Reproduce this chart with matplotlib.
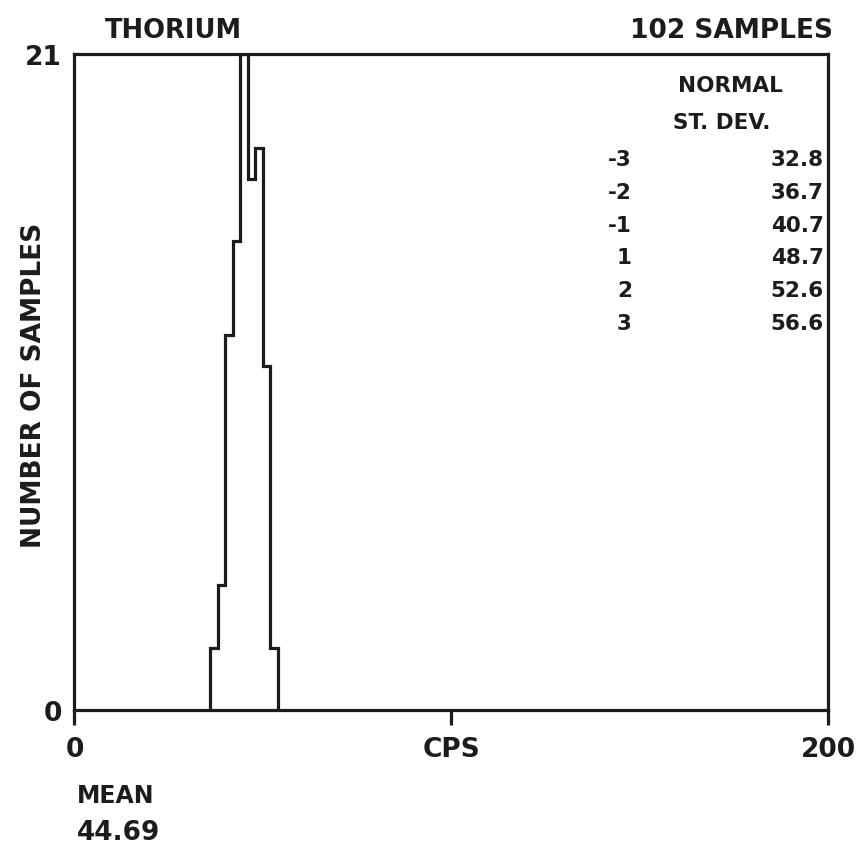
import matplotlib
matplotlib.use('Agg')
import matplotlib.pyplot as plt

# Histogram data (2 CPS bins)
bin_edges = [36, 38, 40, 42, 44, 46, 48, 50, 52, 54]
counts = [2, 4, 12, 15, 21, 17, 18, 11, 2]

# Normal distribution table
sd_steps = ['-3', '-2', '-1', '1', '2', '3']
sd_values = [32.8, 36.7, 40.7, 48.7, 52.6, 56.6]

element = 'THORIUM'
n_samples = 102
mean_cps = 44.69

ink = '#1c1c1c'
plt.rcParams['font.family'] = ['DejaVu Sans']
plt.rcParams['font.weight'] = 'bold'

W, H = 862, 853
fig = plt.figure(figsize=(W / 100, H / 100), dpi=100)
fig.patch.set_facecolor('white')
ax = fig.add_axes([74.5 / W, (H - 711) / H, (828 - 74.5) / W, (711 - 55) / H])

ax.stairs(counts, bin_edges, color=ink, linewidth=2.3)

ax.set_xlim(0, 200)
ax.set_ylim(0, 21)
for s in ax.spines.values():
    s.set_color(ink)
    s.set_linewidth(2.3)

ax.set_xticks([0, 100, 200])
ax.set_xticklabels(['0', 'CPS', '200'])
ax.set_yticks([0, 21])
ax.set_yticklabels(['0', '21'])
ax.tick_params(axis='x', direction='out', length=11, width=2.3, color=ink,
               labelsize=19, labelcolor=ink, pad=8)
ax.tick_params(axis='y', length=0, labelsize=19, labelcolor=ink, pad=9)

# y label centred at x ~ 34 px
ax.set_ylabel('NUMBER OF SAMPLES', fontsize=19, fontweight='bold', color=ink, va='center')
ax.yaxis.set_label_coords((34 - 74.5) / (828 - 74.5), (711 - 385) / (711 - 55))

# Header
fig.text(105 / W, 1 - 38 / H, element, fontsize=18.5, color=ink, ha='left', va='baseline')
fig.text(833 / W, 1 - 38 / H, f'{n_samples} SAMPLES', fontsize=19, color=ink,
         ha='right', va='baseline')

# Normal st. dev. table
fig.text(730 / W, 1 - 86 / H, 'NORMAL', fontsize=15.5, color=ink, ha='center', va='center')
fig.text(722 / W, 1 - 123 / H, 'ST. DEV.', fontsize=15.5, color=ink, ha='center', va='center')
for i, (step, val) in enumerate(zip(sd_steps, sd_values)):
    yc = 160 + i * 32.8
    fig.text(632 / W, 1 - yc / H, step, fontsize=15.5, color=ink, ha='right', va='center')
    fig.text(824 / W, 1 - yc / H, f'{val:.1f}', fontsize=15.5, color=ink,
             ha='right', va='center')

# Mean
fig.text(77 / W, 1 - 803 / H, 'MEAN', fontsize=17, color=ink, ha='left', va='baseline')
fig.text(77 / W, 1 - 840 / H, f'{mean_cps:.2f}', fontsize=19, color=ink,
         ha='left', va='baseline')

fig.savefig('out.png', dpi=100, facecolor='white')
